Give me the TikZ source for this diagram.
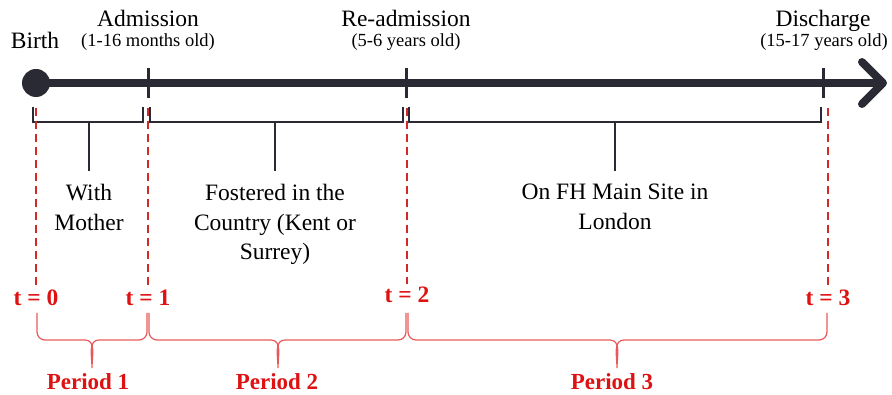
\documentclass[tikz,border=0pt]{standalone}
\usepackage{fontspec}
\setmainfont{Liberation Serif}
\usepackage{tikz}
\usetikzlibrary{arrows.meta}

\definecolor{axisgray}{RGB}{42,42,52}
\definecolor{tred}{RGB}{222,18,18}
\definecolor{dashred}{RGB}{212,40,40}
\definecolor{bracered}{RGB}{232,90,90}

\tikzset{
  event/.style={font=\fontsize{23.5}{28}\selectfont, anchor=base, inner sep=0pt},
  age/.style={font=\fontsize{18.5}{22}\selectfont, anchor=base, inner sep=0pt},
  stage/.style={font=\fontsize{23.5}{29.5}\selectfont, align=center, anchor=north, inner xsep=0pt, inner ysep=13pt},
  tlabel/.style={text=tred, font=\bfseries\fontsize{23.5}{28}\selectfont, anchor=base, inner sep=3pt},
  period/.style={text=tred, font=\bfseries\fontsize{23}{28}\selectfont, anchor=base, inner sep=0pt},
  bracket/.style={axisgray, line width=2pt},
  tick/.style={axisgray, line width=3pt},
  tline/.style={dashred, line width=1.6pt, dash pattern=on 8pt off 5pt},
  pbrace/.style={bracered, line width=1.2pt},
}

\begin{document}
\begin{tikzpicture}[x=1pt,y=1pt]
  \useasboundingbox (0,0) rectangle (892,-395);

  % time axis
  \node[circle, fill=axisgray, minimum size=28pt, inner sep=0pt] (birthdot) at (36,-83) {};
  \coordinate (adm) at (148,-83);
  \coordinate (readm) at (406,-83);
  \coordinate (dis) at (823,-83);
  \coordinate (axisend) at (887,-83);
  \draw[axisgray, line width=8pt, -{Straight Barb[length=21pt,width=42pt,round]}] (birthdot.center) -- (axisend);
  \draw[tick] (adm) ++(0,15) -- ++(0,-30);
  \draw[tick] (readm) ++(0,15) -- ++(0,-30);
  \draw[tick] (dis) ++(0,15) -- ++(0,-30);

  % events
  \node[event] (birthlbl) at (35,-49) {Birth};
  \node[event] (admlbl) at (148,-27) {Admission};
  \node[age] (admage) at (148,-47) {(1-16 months old)};
  \node[event] (readmlbl) at (406,-27) {Re-admission};
  \node[age] (readmage) at (406,-47) {(5-6 years old)};
  \node[event] (dislbl) at (823,-27) {Discharge};
  \node[age] (disage) at (824,-47) {(15-17 years old)};

  % stages
  \node[stage] (mother) at (89,-171) {With\\Mother};
  \node[stage] (country) at (275,-171) {Fostered in the\\Country (Kent or\\Surrey)};
  \node[stage] (london) at (615,-171) {On FH Main Site in\\London};
  \draw[bracket] (33,-107) |- (143,-122) -- (143,-107);
  \draw[bracket] (150,-107) |- (403,-122) -- (403,-107);
  \draw[bracket] (409,-107) |- (821,-122) -- (821,-107);
  \draw[bracket] (mother.north |- 0,-122) -- (mother.north);
  \draw[bracket] (country.north |- 0,-122) -- (country.north);
  \draw[bracket] (london.north |- 0,-122) -- (london.north);

  % time points
  \node[tlabel] (t0) at (36,-306) {t = 0};
  \node[tlabel] (t1) at (148,-306) {t = 1};
  \node[tlabel] (t2) at (407,-303) {t = 2};
  \node[tlabel] (t3) at (828,-306) {t = 3};
  \draw[tline] (t0.north |- 0,-108) -- (t0.north);
  \draw[tline] (t1.north |- 0,-108) -- (t1.north);
  \draw[tline] (t2.north |- 0,-108) -- (t2.north);
  \draw[tline] (t3.north |- 0,-108) -- (t3.north);

  % periods
  \node[period] (p1) at (88,-389) {Period 1};
  \node[period] (p2) at (277,-389) {Period 2};
  \node[period] (p3) at (612,-389) {Period 3};
  \draw[pbrace] (37,-313) -- (37,-332) to[out=-90,in=180] (45,-340) -- (85,-340)
    to[out=0,in=90] (92,-368) to[out=90,in=180] (99,-340) -- (139,-340) to[out=0,in=-90] (147,-332) -- (147,-313);
  \draw[pbrace] (149,-313) -- (149,-332) to[out=-90,in=180] (157,-340) -- (271,-340)
    to[out=0,in=90] (278,-368) to[out=90,in=180] (285,-340) -- (398,-340) to[out=0,in=-90] (406,-332) -- (406,-313);
  \draw[pbrace] (408,-313) -- (408,-332) to[out=-90,in=180] (416,-340) -- (610,-340)
    to[out=0,in=90] (617,-368) to[out=90,in=180] (624,-340) -- (819,-340) to[out=0,in=-90] (827,-332) -- (827,-313);
\end{tikzpicture}
\end{document}
